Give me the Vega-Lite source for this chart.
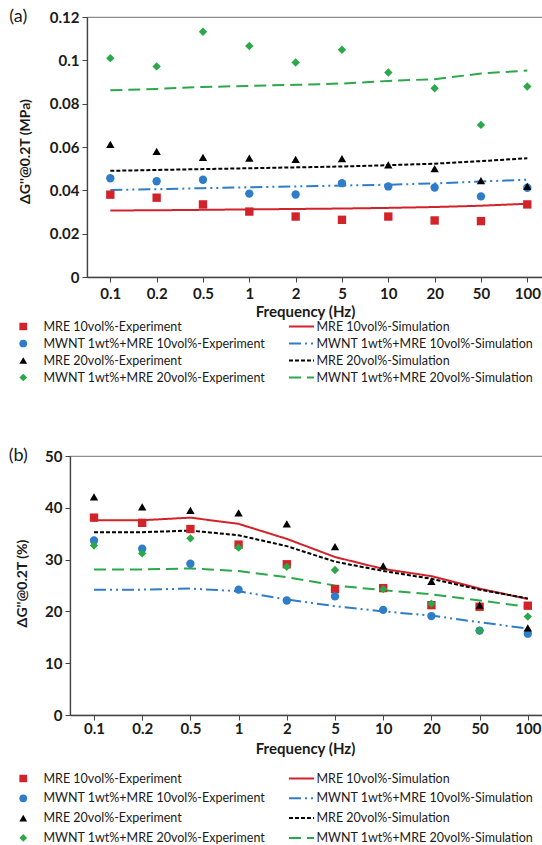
{
"$schema": "https://vega.github.io/schema/vega-lite/v6.json",
"padding": {"left": 7, "top": 7, "right": 0, "bottom": 0},
"background": "white",
"columns": 2,
"align": "none",
"spacing": {"row": 61, "column": 0},
"config": {
  "font": "Lato",
  "view": {"stroke": "#8f8f8f", "strokeWidth": 1.2},
  "axis": {"grid": false, "labelFont": "Lato", "labelFontWeight": "bold", "labelFontSize": 15, "labelColor": "#1a1a1a", "titleFont": "Lato", "titleFontWeight": "bold", "titleFontSize": 14, "titleColor": "#1a1a1a", "domainColor": "#444", "domainWidth": 1.3, "tickColor": "#444", "tickSize": 5, "labelPadding": 3},
  "legend": {"labelFont": "Lato", "labelFontSize": 12.5, "labelColor": "#1a1a1a", "labelLimit": 400, "orient": "none"},
  "title": {"font": "Lato", "fontWeight": "normal", "fontSize": 18, "color": "#1a1a1a"}
},
"concat": [
{"width": 1, "height": 1, "data": {"values": []}, "mark": "point", "view": {"stroke": null}},
{
  "title": {"text": "(a)", "anchor": "start", "frame": "group", "orient": "top", "baseline": "middle", "offset": 0, "dx": -77.7, "dy": 25},
  "width": 460, "height": 260,
  "data": {"values": [
    {"f":"0.1","s":"MRE 10vol%","e":0.038,"m":0.0307},
    {"f":"0.2","s":"MRE 10vol%","e":0.0366,"m":0.0308},
    {"f":"0.5","s":"MRE 10vol%","e":0.0335,"m":0.031},
    {"f":"1","s":"MRE 10vol%","e":0.0302,"m":0.0312},
    {"f":"2","s":"MRE 10vol%","e":0.0279,"m":0.0314},
    {"f":"5","s":"MRE 10vol%","e":0.0264,"m":0.0316},
    {"f":"10","s":"MRE 10vol%","e":0.0279,"m":0.0319},
    {"f":"20","s":"MRE 10vol%","e":0.0261,"m":0.0323},
    {"f":"50","s":"MRE 10vol%","e":0.0258,"m":0.0329},
    {"f":"100","s":"MRE 10vol%","e":0.0335,"m":0.0338},
    {"f":"0.1","s":"MWNT 1wt%+MRE 10vol%","e":0.0456,"m":0.0402},
    {"f":"0.2","s":"MWNT 1wt%+MRE 10vol%","e":0.0442,"m":0.0405},
    {"f":"0.5","s":"MWNT 1wt%+MRE 10vol%","e":0.0449,"m":0.041},
    {"f":"1","s":"MWNT 1wt%+MRE 10vol%","e":0.0385,"m":0.0414},
    {"f":"2","s":"MWNT 1wt%+MRE 10vol%","e":0.0381,"m":0.0418},
    {"f":"5","s":"MWNT 1wt%+MRE 10vol%","e":0.0433,"m":0.0422},
    {"f":"10","s":"MWNT 1wt%+MRE 10vol%","e":0.0418,"m":0.0426},
    {"f":"20","s":"MWNT 1wt%+MRE 10vol%","e":0.0413,"m":0.0432},
    {"f":"50","s":"MWNT 1wt%+MRE 10vol%","e":0.0372,"m":0.0441},
    {"f":"100","s":"MWNT 1wt%+MRE 10vol%","e":0.0412,"m":0.0449},
    {"f":"0.1","s":"MRE 20vol%","e":0.0612,"m":0.049},
    {"f":"0.2","s":"MRE 20vol%","e":0.058,"m":0.0494},
    {"f":"0.5","s":"MRE 20vol%","e":0.0552,"m":0.0498},
    {"f":"1","s":"MRE 20vol%","e":0.0549,"m":0.0502},
    {"f":"2","s":"MRE 20vol%","e":0.0543,"m":0.0506},
    {"f":"5","s":"MRE 20vol%","e":0.0546,"m":0.051},
    {"f":"10","s":"MRE 20vol%","e":0.0518,"m":0.0516},
    {"f":"20","s":"MRE 20vol%","e":0.05,"m":0.0523},
    {"f":"50","s":"MRE 20vol%","e":0.0445,"m":0.0535},
    {"f":"100","s":"MRE 20vol%","e":0.0418,"m":0.0548},
    {"f":"0.1","s":"MWNT 1wt%+MRE 20vol%","e":0.101,"m":0.0862},
    {"f":"0.2","s":"MWNT 1wt%+MRE 20vol%","e":0.0972,"m":0.0868},
    {"f":"0.5","s":"MWNT 1wt%+MRE 20vol%","e":0.1132,"m":0.0877},
    {"f":"1","s":"MWNT 1wt%+MRE 20vol%","e":0.1066,"m":0.0882},
    {"f":"2","s":"MWNT 1wt%+MRE 20vol%","e":0.099,"m":0.0887},
    {"f":"5","s":"MWNT 1wt%+MRE 20vol%","e":0.1049,"m":0.0893},
    {"f":"10","s":"MWNT 1wt%+MRE 20vol%","e":0.0944,"m":0.0905},
    {"f":"20","s":"MWNT 1wt%+MRE 20vol%","e":0.0871,"m":0.0913},
    {"f":"50","s":"MWNT 1wt%+MRE 20vol%","e":0.0702,"m":0.0939},
    {"f":"100","s":"MWNT 1wt%+MRE 20vol%","e":0.0879,"m":0.0953}
  ]},
  "encoding": {
    "x": {"field": "f", "type": "ordinal", "sort": ["0.1","0.2","0.5","1","2","5","10","20","50","100"], "scale": {"type": "point", "padding": 0.4644, "align": 0.542}, "axis": {"title": "Frequency (Hz)", "labelAngle": 0, "labelPadding": 4, "titleX": 218, "titlePadding": 3, "titleFontSize": 15}}
  },
  "layer": [
    {"mark": {"type": "line", "strokeWidth": 2},
     "encoding": {
       "y": {"field": "m", "type": "quantitative", "scale": {"domain": [0, 0.12]}, "axis": {"title": "ΔG''@0.2T (MPa)", "values": [0,0.02,0.04,0.06,0.08,0.1,0.12], "format": ".2~f", "titleX": -61.7, "titleY": 134, "titleBaseline": "middle"}},
       "color": {"field": "s", "type": "nominal", "scale": {"domain": ["MRE 10vol%","MWNT 1wt%+MRE 10vol%","MRE 20vol%","MWNT 1wt%+MRE 20vol%"], "range": ["#d2232a","#2f7dc8","#000000","#2aa84a"]}, "legend": {"title": null, "legendX": 201, "legendY": 303, "labelExpr": "datum.label + '-Simulation'", "symbolSize": 625, "symbolStrokeWidth": 2, "labelOffset": 1.5, "rowPadding": 4, "clipHeight": 13}},
       "strokeDash": {"field": "s", "type": "nominal", "scale": {"domain": ["MRE 10vol%","MWNT 1wt%+MRE 10vol%","MRE 20vol%","MWNT 1wt%+MRE 20vol%"], "range": [[1,0],[12,4,2,4,2,4],[4,2],[12,6]]}, "legend": {"title": null, "legendX": 201, "legendY": 303, "labelExpr": "datum.label + '-Simulation'", "symbolSize": 625, "symbolStrokeWidth": 2, "labelOffset": 1.5, "rowPadding": 4, "clipHeight": 13}}
     }},
    {"mark": {"type": "point", "filled": true, "opacity": 1, "size": 70},
     "encoding": {
       "y": {"field": "e", "type": "quantitative", "axis": {"title": "ΔG''@0.2T (MPa)"}},
       "color": {"field": "s", "type": "nominal", "scale": {"domain": ["MRE 10vol%","MWNT 1wt%+MRE 10vol%","MRE 20vol%","MWNT 1wt%+MRE 20vol%"], "range": ["#d2232a","#2f7dc8","#000000","#2aa84a"]}, "legend": {"title": null, "legendX": -70, "legendY": 303, "labelExpr": "datum.label + '-Experiment'", "symbolSize": 60, "labelOffset": 14, "rowPadding": 4, "clipHeight": 13}},
       "shape": {"field": "s", "type": "nominal", "scale": {"domain": ["MRE 10vol%","MWNT 1wt%+MRE 10vol%","MRE 20vol%","MWNT 1wt%+MRE 20vol%"], "range": ["square","circle","triangle-up","diamond"]}, "legend": {"title": null, "legendX": -70, "legendY": 303, "labelExpr": "datum.label + '-Experiment'", "symbolSize": 60, "labelOffset": 14, "rowPadding": 4, "clipHeight": 13}}
     }}
  ],
  "resolve": {"scale": {"color": "independent", "shape": "independent", "strokeDash": "independent"}, "legend": {"color": "independent", "shape": "independent", "strokeDash": "independent"}}
},
{"width": 1, "height": 1, "data": {"values": []}, "mark": "point", "view": {"stroke": null}},
{
  "title": {"text": "(b)", "anchor": "start", "frame": "group", "orient": "top", "baseline": "middle", "offset": 0, "dx": -61.3, "dy": 25},
  "width": 478, "height": 259,
  "data": {"values": [
    {"f":"0.1","s":"MRE 10vol%","e":38.1,"m":37.6},
    {"f":"0.2","s":"MRE 10vol%","e":37.1,"m":37.6},
    {"f":"0.5","s":"MRE 10vol%","e":35.9,"m":38.1},
    {"f":"1","s":"MRE 10vol%","e":32.9,"m":36.9},
    {"f":"2","s":"MRE 10vol%","e":29.1,"m":34.0},
    {"f":"5","s":"MRE 10vol%","e":24.3,"m":30.5},
    {"f":"10","s":"MRE 10vol%","e":24.5,"m":28.2},
    {"f":"20","s":"MRE 10vol%","e":21.2,"m":26.8},
    {"f":"50","s":"MRE 10vol%","e":20.9,"m":24.4},
    {"f":"100","s":"MRE 10vol%","e":21.1,"m":22.4},
    {"f":"0.1","s":"MWNT 1wt%+MRE 10vol%","e":33.7,"m":24.2},
    {"f":"0.2","s":"MWNT 1wt%+MRE 10vol%","e":32.1,"m":24.2},
    {"f":"0.5","s":"MWNT 1wt%+MRE 10vol%","e":29.2,"m":24.4},
    {"f":"1","s":"MWNT 1wt%+MRE 10vol%","e":24.2,"m":23.9},
    {"f":"2","s":"MWNT 1wt%+MRE 10vol%","e":22.1,"m":22.3},
    {"f":"5","s":"MWNT 1wt%+MRE 10vol%","e":22.9,"m":21.0},
    {"f":"10","s":"MWNT 1wt%+MRE 10vol%","e":20.3,"m":20.0},
    {"f":"20","s":"MWNT 1wt%+MRE 10vol%","e":19.1,"m":19.2},
    {"f":"50","s":"MWNT 1wt%+MRE 10vol%","e":16.3,"m":17.9},
    {"f":"100","s":"MWNT 1wt%+MRE 10vol%","e":15.7,"m":16.7},
    {"f":"0.1","s":"MRE 20vol%","e":42.1,"m":35.3},
    {"f":"0.2","s":"MRE 20vol%","e":40.2,"m":35.3},
    {"f":"0.5","s":"MRE 20vol%","e":39.5,"m":35.6},
    {"f":"1","s":"MRE 20vol%","e":39.0,"m":34.7},
    {"f":"2","s":"MRE 20vol%","e":36.9,"m":32.6},
    {"f":"5","s":"MRE 20vol%","e":32.5,"m":29.6},
    {"f":"10","s":"MRE 20vol%","e":28.8,"m":27.8},
    {"f":"20","s":"MRE 20vol%","e":25.8,"m":26.3},
    {"f":"50","s":"MRE 20vol%","e":21.2,"m":24.2},
    {"f":"100","s":"MRE 20vol%","e":16.8,"m":22.5},
    {"f":"0.1","s":"MWNT 1wt%+MRE 20vol%","e":32.7,"m":28.1},
    {"f":"0.2","s":"MWNT 1wt%+MRE 20vol%","e":31.2,"m":28.1},
    {"f":"0.5","s":"MWNT 1wt%+MRE 20vol%","e":34.1,"m":28.3},
    {"f":"1","s":"MWNT 1wt%+MRE 20vol%","e":32.3,"m":27.8},
    {"f":"2","s":"MWNT 1wt%+MRE 20vol%","e":28.6,"m":26.6},
    {"f":"5","s":"MWNT 1wt%+MRE 20vol%","e":28.0,"m":25.0},
    {"f":"10","s":"MWNT 1wt%+MRE 20vol%","e":24.3,"m":24.1},
    {"f":"20","s":"MWNT 1wt%+MRE 20vol%","e":21.5,"m":23.3},
    {"f":"50","s":"MWNT 1wt%+MRE 20vol%","e":16.3,"m":22.1},
    {"f":"100","s":"MWNT 1wt%+MRE 20vol%","e":19.0,"m":20.9}
  ]},
  "encoding": {
    "x": {"field": "f", "type": "ordinal", "sort": ["0.1","0.2","0.5","1","2","5","10","20","50","100"], "scale": {"type": "point", "padding": 0.4585, "align": 0.543}, "axis": {"title": "Frequency (Hz)", "labelAngle": 0, "labelPadding": 1, "titleX": 235, "titlePadding": 5, "titleFontSize": 15}}
  },
  "layer": [
    {"mark": {"type": "line", "strokeWidth": 2},
     "encoding": {
       "y": {"field": "m", "type": "quantitative", "scale": {"domain": [0, 50]}, "axis": {"title": "ΔG''@0.2T (%)", "values": [0,10,20,30,40,50], "titleX": -47.8, "titleY": 127, "titleBaseline": "middle"}},
       "color": {"field": "s", "type": "nominal", "scale": {"domain": ["MRE 10vol%","MWNT 1wt%+MRE 10vol%","MRE 20vol%","MWNT 1wt%+MRE 20vol%"], "range": ["#d2232a","#2f7dc8","#000000","#2aa84a"]}, "legend": {"title": null, "legendX": 218, "legendY": 316, "labelExpr": "datum.label + '-Simulation'", "symbolSize": 625, "symbolStrokeWidth": 2, "labelOffset": 1.5, "rowPadding": 6.8, "clipHeight": 13}},
       "strokeDash": {"field": "s", "type": "nominal", "scale": {"domain": ["MRE 10vol%","MWNT 1wt%+MRE 10vol%","MRE 20vol%","MWNT 1wt%+MRE 20vol%"], "range": [[1,0],[12,4,2,4,2,4],[4,2],[12,6]]}, "legend": {"title": null, "legendX": 218, "legendY": 316, "labelExpr": "datum.label + '-Simulation'", "symbolSize": 625, "symbolStrokeWidth": 2, "labelOffset": 1.5, "rowPadding": 6.8, "clipHeight": 13}}
     }},
    {"mark": {"type": "point", "filled": true, "opacity": 1, "size": 70},
     "encoding": {
       "y": {"field": "e", "type": "quantitative", "axis": {"title": "ΔG''@0.2T (%)"}},
       "color": {"field": "s", "type": "nominal", "scale": {"domain": ["MRE 10vol%","MWNT 1wt%+MRE 10vol%","MRE 20vol%","MWNT 1wt%+MRE 20vol%"], "range": ["#d2232a","#2f7dc8","#000000","#2aa84a"]}, "legend": {"title": null, "legendX": -53, "legendY": 316, "labelExpr": "datum.label + '-Experiment'", "symbolSize": 60, "labelOffset": 14, "rowPadding": 6.8, "clipHeight": 13}},
       "shape": {"field": "s", "type": "nominal", "scale": {"domain": ["MRE 10vol%","MWNT 1wt%+MRE 10vol%","MRE 20vol%","MWNT 1wt%+MRE 20vol%"], "range": ["square","circle","triangle-up","diamond"]}, "legend": {"title": null, "legendX": -53, "legendY": 316, "labelExpr": "datum.label + '-Experiment'", "symbolSize": 60, "labelOffset": 14, "rowPadding": 6.8, "clipHeight": 13}}
     }}
  ],
  "resolve": {"scale": {"color": "independent", "shape": "independent", "strokeDash": "independent"}, "legend": {"color": "independent", "shape": "independent", "strokeDash": "independent"}}
}
]
}
